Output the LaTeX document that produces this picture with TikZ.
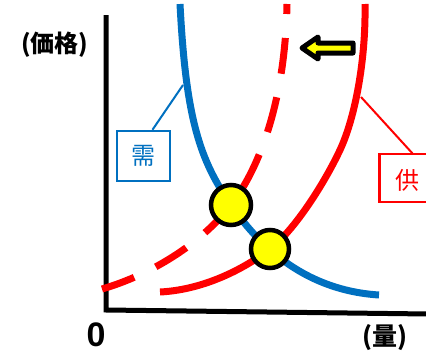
\documentclass[tikz,border=0pt]{standalone}
\usepackage{fontspec}
\setmainfont{Liberation Sans}
\newfontfamily\cjk{Noto Sans CJK JP}
\definecolor{dblue}{RGB}{0,112,192}
\definecolor{sred}{RGB}{255,0,0}
\definecolor{ylw}{RGB}{255,255,0}
\begin{document}
\begin{tikzpicture}[x=1pt,y=-1pt,
  axis/.style={line width=5pt,black},
  demand/.style={line width=7pt,dblue},
  supply/.style={line width=7pt,sred},
  shifted/.style={line width=7pt,sred,dash pattern=on 36pt off 24pt,dash phase=26pt},
  lead/.style={line width=2pt},
  eqpt/.style={circle,draw=black,fill=ylw,line width=4.5pt,inner sep=0pt},
  lbl/.style={draw,line width=2.5pt,inner sep=0pt,font=\cjk\fontsize{24}{24}\selectfont}]
\useasboundingbox (0,0) rectangle (426,356);
\clip (0,0) rectangle (426,356);
% axes
\coordinate (ytop) at (106,15);
\coordinate (orig) at (106,310);
\coordinate (xend) at (428,314);
\draw[axis,line join=miter] (ytop) -- (orig) -- (xend);
% demand curve
\coordinate (d0) at (180,4);
\coordinate (dm) at (231,205);
\coordinate (d1) at (379,295);
\draw[demand] (d0) .. controls (186,120) and (200,160) .. (dm)
  .. controls (255,240) and (300,290) .. (d1);
% supply curve
\coordinate (s0) at (160,292);
\coordinate (sm) at (270,249);
\coordinate (sn) at (340,150);
\coordinate (s1) at (365,4);
\draw[supply] (s0) .. controls (200,290) and (240,272) .. (sm)
  .. controls (295,230) and (325,182) .. (sn)
  .. controls (355,118) and (366,60) .. (s1);
% shifted supply (dashed)
\coordinate (t0) at (102,289);
\coordinate (t1) at (287,4);
\draw[shifted] (t1) .. controls (285,110) and (255,174) .. (dm)
  .. controls (200,245) and (150,275) .. (t0);
% labels
\node[lbl,draw=dblue,text=dblue,minimum width=53pt,minimum height=50pt] (dl) at (143.5,156) {需};
\coordinate (dc) at (183,85);
\draw[lead,dblue] (dl.north) ++(9,0) coordinate (dlt) -- (dc);
\node[lbl,draw=sred,minimum width=60pt,minimum height=48pt,anchor=west] (sl) at (378,178) {};
\node[text=sred,font=\cjk\fontsize{24}{24}\selectfont] (st) at (407,180) {供};
\coordinate (sc) at (361,97);
\coordinate (slt) at (413,154);
\draw[lead,sred] (sc) -- (slt);
% equilibria
\node[eqpt,minimum size=40pt] (e1) at (dm) {};
\node[eqpt,minimum size=38pt] (e2) at (sm) {};
% arrow
\draw[line width=5pt,line join=round,fill=ylw] (302,48) -- (318,37) -- (318,43) -- (353,43) -- (353,53) -- (318,53) -- (318,59) -- cycle;
% text
\node[font=\cjk\bfseries\fontsize{24}{24}\selectfont] (pl) at (55,45) {(価格)};
\node[font=\bfseries\fontsize{34}{34}\selectfont,inner sep=0pt] (zero) at (96,335) {0};
\node[font=\cjk\bfseries\fontsize{25}{25}\selectfont] (ql) at (385,338) {(量)};
\end{tikzpicture}
\end{document}
